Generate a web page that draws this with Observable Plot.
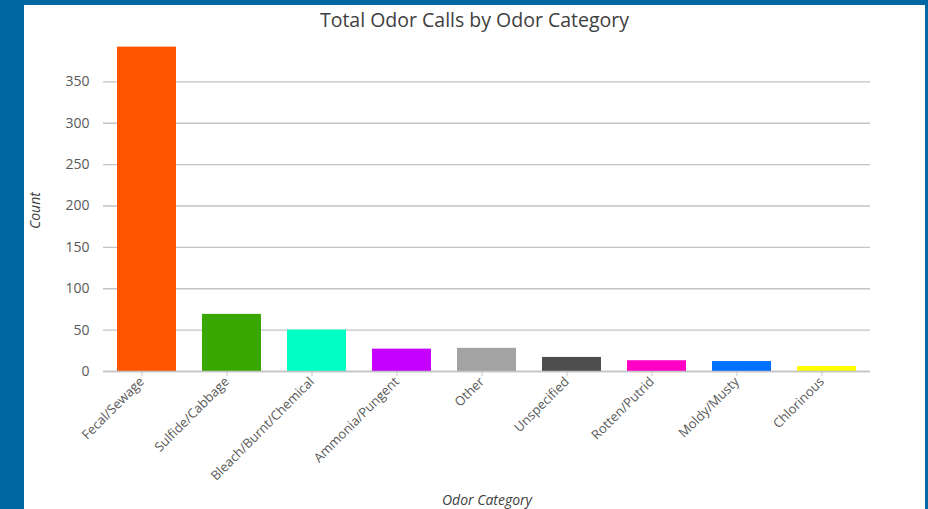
<!DOCTYPE html>
<html>
<head>
<meta charset="utf-8">
<script src="https://cdn.jsdelivr.net/npm/d3@7"></script>
<script src="https://cdn.jsdelivr.net/npm/@observablehq/plot@0.6"></script>
<style>
  html, body { margin: 0; padding: 0; background: #0067a3; width: 928px; height: 509px; overflow: hidden; }
  #panel { position: absolute; left: 24px; top: 5px; width: 901px; height: 504px; background: #fff; }
  #title { height: 30px; text-align: center; font-family: "Open Sans", sans-serif; font-size: 19.5px; color: #404040; line-height: 30px; overflow: visible; }
  #chart svg { display: block; }
</style>
</head>
<body>
<div id="panel">
  <div id="title">Total Odor Calls by Odor Category</div>
  <div id="chart"></div>
</div>
<script>
const categories = ["Fecal/Sewage", "Sulfide/Cabbage", "Bleach/Burnt/Chemical", "Ammonia/Pungent", "Other", "Unspecified", "Rotten/Putrid", "Moldy/Musty", "Chlorinous"];
const counts = [392, 69, 50, 27, 28, 17, 13, 12, 6];
const colors = ["#ff5500", "#38a800", "#00ffc5", "#c500ff", "#a3a3a3", "#4e4e4e", "#ff00c5", "#0070ff", "#ffff00"];
const yTicks = [0, 50, 100, 150, 200, 250, 300, 350];

const data = categories.map((c, i) => ({category: c, count: counts[i], color: colors[i]}));

const chart = Plot.plot({
  width: 901,
  height: 474,
  marginLeft: 79,
  marginRight: 55,
  marginTop: 5,
  marginBottom: 138,
  style: {fontFamily: "Open Sans, sans-serif", fontSize: "13px", color: "#595959", background: "#fff"},
  x: {domain: categories, paddingInner: 0.3, paddingOuter: 0.15, label: null},
  y: {domain: [0, 400], label: null},
  marks: [
    Plot.gridY(yTicks, {stroke: "#c4c4c4", strokeOpacity: 1, strokeWidth: 1.3}),
    Plot.barY(data, {x: "category", y: "count", fill: "color"}),
    Plot.ruleY([0], {stroke: "#c4c4c4", strokeWidth: 1.5}),
    Plot.axisY(yTicks, {tickSize: 0, tickPadding: 14, fill: "#595959", fontSize: 14, label: null}),
    Plot.axisX({tickSize: 4, tickPadding: 3, tickRotate: -45, dx: -5, dy: 1, stroke: "#c4c4c4", fill: "#595959", fontSize: 13, label: null}),
    Plot.text(["Count"], {frameAnchor: "left", dx: -68, dy: 23, rotate: -90, fontStyle: "italic", fontSize: 14, fill: "#404040"}),
    Plot.text(["Odor Category"], {frameAnchor: "bottom", dy: 133, fontStyle: "italic", fontSize: 14, fill: "#404040"})
  ]
});
document.getElementById("chart").appendChild(chart);
</script>
</body>
</html>
